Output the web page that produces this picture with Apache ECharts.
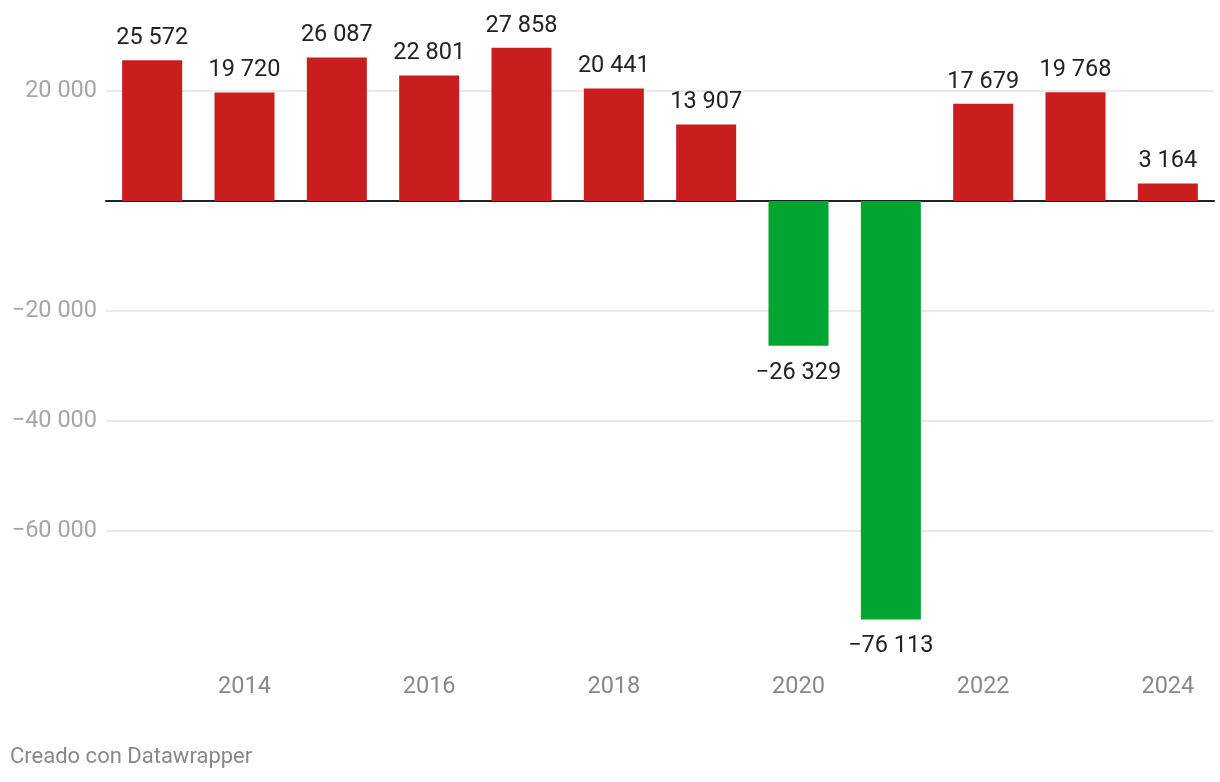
<!DOCTYPE html>
<html>
<head>
<meta charset="utf-8">
<script src="https://cdn.jsdelivr.net/npm/echarts@6/dist/echarts.min.js"></script>
<style>
html,body{margin:0;padding:0;background:#fff;}
#c{width:1220px;height:782px;}
</style>
</head>
<body>
<div id="c"></div>
<script>
const categories = ['2013','2014','2015','2016','2017','2018','2019','2020','2021','2022','2023','2024'];
const values = [25572, 19720, 26087, 22801, 27858, 20441, 13907, -26329, -76113, 17679, 19768, 3164];
const yTicks = [-60000, -40000, -20000, 0, 20000];

function fmt(v){
  const s = Math.abs(v).toString().replace(/\B(?=(\d{3})+(?!\d))/g, ' ');
  return (v < 0 ? '\u2212' : '') + s;
}

const chart = echarts.init(document.getElementById('c'));
chart.setOption({
  backgroundColor: '#ffffff',
  animation: false,
  grid: {left: 106, right: 6, top: 36, bottom: 141, containLabel: false},
  graphic: [{
    type: 'text', left: 10, top: 746,
    style: {text: 'Creado con Datawrapper', fill: '#888888', font: '22px Roboto'}
  }],
  xAxis: {
    type: 'category',
    data: categories,
    axisLine: {show: true, onZero: true, lineStyle: {color: '#222222', width: 2}},
    axisTick: {show: false},
    axisLabel: {
      interval: function(i){ return i % 2 === 1; },
      color: '#888888', fontFamily: 'Roboto', fontSize: 23.5,
      margin: 34
    },
    position: 'bottom'
  },
  yAxis: {
    type: 'value',
    min: -80000, max: 30000, interval: 20000,
    axisLine: {show: false},
    axisTick: {show: false},
    splitLine: {show: true, showMinLine: false, showMaxLine: false, lineStyle: {color: '#e3e3e3', width: 1.5}},
    axisLabel: {
      showMinLabel: false, showMaxLabel: false,
      color: '#a6a6a6', fontFamily: 'Roboto', fontSize: 23.5, margin: 9,
      formatter: function(v){ return (v === 0) ? '' : fmt(v); }
    }
  },
  series: [{
    type: 'bar',
    barCategoryGap: '35%',
    data: values.map(v => ({
      value: v,
      itemStyle: {color: v < 0 ? '#00a532' : '#c91d1e'},
      label: {position: v < 0 ? 'bottom' : 'top', distance: v < 0 ? 15 : 10}
    })),
    label: {
      show: true,
      color: '#222222', fontFamily: 'Roboto', fontSize: 23.5,
      formatter: p => fmt(p.value)
    }
  }]
});
</script>
</body>
</html>
